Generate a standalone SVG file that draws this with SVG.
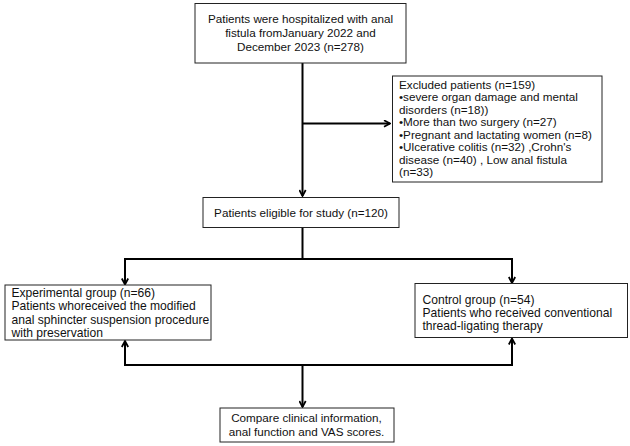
<svg xmlns="http://www.w3.org/2000/svg" width="630" height="446" viewBox="0 0 630 446">
<style>
.box{fill:#fff;stroke:#222;stroke-width:1}
.t{font-family:"Liberation Sans",Arial,sans-serif;font-size:11.7px;fill:#111}
.tl{font-family:"Liberation Sans",Arial,sans-serif;font-size:12.1px;fill:#111}
.c{text-anchor:middle}
.ln{fill:none;stroke:#000;stroke-width:2}
</style>
<defs>
<marker id="ah" viewBox="0 0 10 10" refX="9" refY="5" markerWidth="8" markerHeight="8" markerUnits="userSpaceOnUse" orient="auto">
<path d="M1.5,1 L9,5 L1.5,9" fill="none" stroke="#000" stroke-width="2.2"/>
</marker>
</defs>
<rect width="630" height="446" fill="#fff"/>
<g id="connectors">
<path class="ln" d="M302.5,63 V196" marker-end="url(#ah)"/>
<path class="ln" d="M302.5,123.5 H390" marker-end="url(#ah)"/>
<path class="ln" d="M302.5,227 V259"/>
<path class="ln" d="M125,259 H512"/>
<path class="ln" d="M125,258 V284.5" marker-end="url(#ah)"/>
<path class="ln" d="M512,258 V283" marker-end="url(#ah)"/>
<path class="ln" d="M125,366 V341" marker-end="url(#ah)"/>
<path class="ln" d="M512,366 V338.5" marker-end="url(#ah)"/>
<path class="ln" d="M125,365 H512"/>
<path class="ln" d="M302.5,365 V407" marker-end="url(#ah)"/>
</g>
<g id="hospitalized">
<rect class="box" x="195" y="3.5" width="211" height="59.5"/>
<text class="t c" x="300.5" y="22.5">Patients were hospitalized with anal</text>
<text class="t c" x="300.5" y="36.5">fistula fromJanuary 2022 and</text>
<text class="t c" x="300.5" y="50.5">December 2023 (n=278)</text>
</g>
<g id="excluded">
<rect class="box" x="392.5" y="76" width="209.5" height="106"/>
<text class="t" x="399">
<tspan x="399" y="88.5">Excluded patients (n=159)</tspan>
<tspan x="399" y="101">•severe organ damage and mental</tspan>
<tspan x="399" y="113.5">disorders (n=18))</tspan>
<tspan x="399" y="126">•More than two surgery (n=27)</tspan>
<tspan x="399" y="138.5">•Pregnant and lactating women (n=8)</tspan>
<tspan x="399" y="151">•Ulcerative colitis (n=32) ,Crohn's</tspan>
<tspan x="399" y="163.5">disease (n=40) ,  Low anal fistula</tspan>
<tspan x="399" y="176">(n=33)</tspan>
</text>
</g>
<g id="eligible">
<rect class="box" x="203" y="197.5" width="196" height="30"/>
<text class="t c" x="301" y="217">Patients eligible for study (n=120)</text>
</g>
<g id="experimental">
<rect class="box" x="5" y="285" width="206" height="55"/>
<text class="tl">
<tspan x="11.5" y="297">Experimental group (n=66)</tspan>
<tspan x="11.5" y="310.3">Patients whoreceived the modified</tspan>
<tspan x="11.5" y="323.7">anal sphincter suspension procedure</tspan>
<tspan x="11.5" y="337">with preservation</tspan>
</text>
</g>
<g id="control">
<rect class="box" x="415" y="283.5" width="212.5" height="54"/>
<text class="tl">
<tspan x="422.5" y="303.5">Control group (n=54)</tspan>
<tspan x="422.5" y="317">Patients who received conventional</tspan>
<tspan x="422.5" y="330.3">thread-ligating therapy</tspan>
</text>
</g>
<g id="compare">
<rect class="box" x="220" y="408" width="174" height="34"/>
<text class="t c" x="306.5" y="422">Compare clinical information,</text>
<text class="t c" x="306.5" y="436">anal function and VAS scores.</text>
</g>
</svg>
